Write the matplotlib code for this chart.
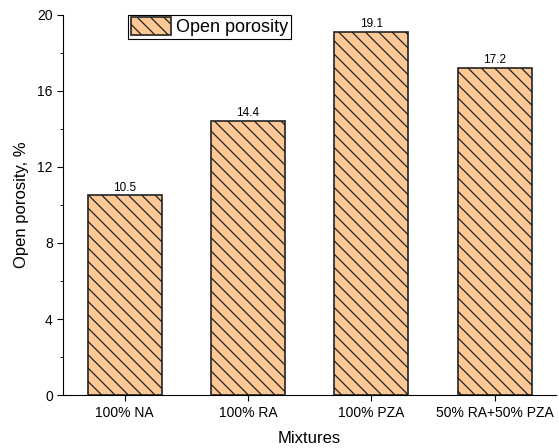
import numpy as np
import matplotlib.pyplot as plt
from matplotlib.ticker import MultipleLocator

plt.rcParams['font.family'] = ['Liberation Sans', 'DejaVu Sans']

# data
mixtures = ['100% NA', '100% RA', '100% PZA', '50% RA+50% PZA']
porosity = [10.5, 14.4, 19.1, 17.2]

# render at 80 dpi so the hatch tile (one inch) gets denser lines;
# sizes in points are scaled by s to keep the same pixel sizes
DPI = 80
s = 100 / DPI
plt.rcParams['hatch.linewidth'] = 0.9 * s
plt.rcParams['axes.linewidth'] = 0.8 * s

fig = plt.figure(figsize=(559 / DPI, 448 / DPI), dpi=DPI)
ax = fig.add_axes([0.113, 0.118, 0.882, 0.849])

x = np.arange(len(mixtures))
bars = ax.bar(x, porosity, width=0.6, color='#fdc896', edgecolor='#222222',
              linewidth=1.2 * s, hatch='\\\\', label='Open porosity')

for xi, v in zip(x, porosity):
    ax.text(xi, v + 0.1, f'{v}', ha='center', va='bottom', fontsize=8.5 * s)

ax.set_xlim(-0.5, 3.5)
ax.set_ylim(0, 20)
ax.set_xticks(x)
ax.set_xticklabels(mixtures)
ax.yaxis.set_major_locator(MultipleLocator(4))
ax.yaxis.set_minor_locator(MultipleLocator(2))
ax.tick_params(axis='both', which='major', direction='out', length=4 * s,
               width=0.8 * s, pad=3.5 * s, labelsize=10 * s)
ax.tick_params(axis='y', which='minor', direction='out', length=2.5 * s,
               width=0.6 * s)
ax.spines['top'].set_visible(False)
ax.spines['right'].set_visible(False)

ax.set_xlabel('Mixtures', fontsize=12 * s, labelpad=8 * s)
ax.set_ylabel('Open porosity, %', fontsize=12 * s, labelpad=6 * s)

leg = ax.legend(loc='upper left', bbox_to_anchor=(0.132, 1.0), fontsize=13 * s,
                fancybox=False, edgecolor='black', framealpha=1,
                handlelength=2.2, handleheight=1.1, borderpad=0.15,
                handletextpad=0.3, borderaxespad=0.0)
leg.get_frame().set_linewidth(0.8 * s)

fig.savefig('out.png', dpi=DPI)
